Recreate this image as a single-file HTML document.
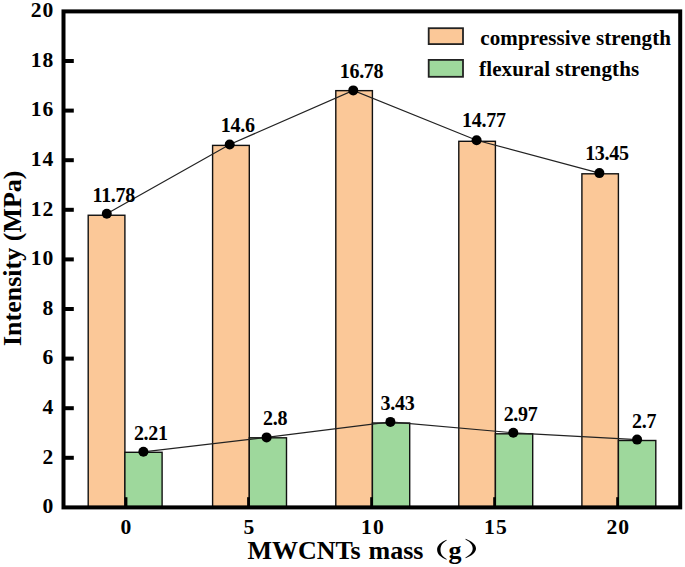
<!DOCTYPE html><html><head><meta charset="utf-8"><style>html,body{margin:0;padding:0;background:#fff;width:685px;height:567px;overflow:hidden}svg{display:block}text{font-family:"Liberation Serif",serif;font-weight:bold;fill:#000}</style></head><body>
<svg width="685" height="567" viewBox="0 0 685 567">
<rect x="88.2" y="215.25" width="36.70" height="292.15" fill="#FBC898" stroke="#111" stroke-width="1.4"/>
<rect x="124.9" y="452.3" width="37.20" height="55.10" fill="#9ED89C" stroke="#111" stroke-width="1.4"/>
<rect x="212.6" y="145.4" width="36.70" height="362.00" fill="#FBC898" stroke="#111" stroke-width="1.4"/>
<rect x="249.3" y="437.8" width="37.20" height="69.60" fill="#9ED89C" stroke="#111" stroke-width="1.4"/>
<rect x="335.8" y="90.65" width="36.60" height="416.75" fill="#FBC898" stroke="#111" stroke-width="1.4"/>
<rect x="372.4" y="423.0" width="37.30" height="84.40" fill="#9ED89C" stroke="#111" stroke-width="1.4"/>
<rect x="458.8" y="141.3" width="36.60" height="366.10" fill="#FBC898" stroke="#111" stroke-width="1.4"/>
<rect x="495.4" y="433.8" width="37.30" height="73.60" fill="#9ED89C" stroke="#111" stroke-width="1.4"/>
<rect x="581.9" y="173.8" width="36.50" height="333.60" fill="#FBC898" stroke="#111" stroke-width="1.4"/>
<rect x="618.4" y="440.5" width="37.40" height="66.90" fill="#9ED89C" stroke="#111" stroke-width="1.4"/>
<line x1="126" y1="507.40" x2="126" y2="497.2" stroke="#000" stroke-width="2.8"/>
<line x1="248.5" y1="507.40" x2="248.5" y2="497.2" stroke="#000" stroke-width="2.8"/>
<line x1="371.6" y1="507.40" x2="371.6" y2="497.2" stroke="#000" stroke-width="2.8"/>
<line x1="494.6" y1="507.40" x2="494.6" y2="497.2" stroke="#000" stroke-width="2.8"/>
<line x1="617.6" y1="507.40" x2="617.6" y2="497.2" stroke="#000" stroke-width="2.8"/>
<line x1="63.50" y1="457.80" x2="73.8" y2="457.80" stroke="#000" stroke-width="4"/>
<line x1="63.50" y1="408.20" x2="73.8" y2="408.20" stroke="#000" stroke-width="4"/>
<line x1="63.50" y1="358.60" x2="73.8" y2="358.60" stroke="#000" stroke-width="4"/>
<line x1="63.50" y1="309.00" x2="73.8" y2="309.00" stroke="#000" stroke-width="4"/>
<line x1="63.50" y1="259.40" x2="73.8" y2="259.40" stroke="#000" stroke-width="4"/>
<line x1="63.50" y1="209.80" x2="73.8" y2="209.80" stroke="#000" stroke-width="4"/>
<line x1="63.50" y1="160.20" x2="73.8" y2="160.20" stroke="#000" stroke-width="4"/>
<line x1="63.50" y1="110.60" x2="73.8" y2="110.60" stroke="#000" stroke-width="4"/>
<line x1="63.50" y1="61.00" x2="73.8" y2="61.00" stroke="#000" stroke-width="4"/>
<polyline points="106.8,213.8 229.7,144.5 353.25,90.4 476.6,140.3 599.4,173.1" fill="none" stroke="#222" stroke-width="1.2"/>
<polyline points="143.4,451.8 266.6,437.4 390.4,421.9 513.3,432.8 637.1,439.6" fill="none" stroke="#222" stroke-width="1.2"/>
<circle cx="106.8" cy="213.8" r="5" fill="#000"/>
<circle cx="229.7" cy="144.5" r="5" fill="#000"/>
<circle cx="353.25" cy="90.4" r="5" fill="#000"/>
<circle cx="476.6" cy="140.3" r="5" fill="#000"/>
<circle cx="599.4" cy="173.1" r="5" fill="#000"/>
<circle cx="143.4" cy="451.8" r="5" fill="#000"/>
<circle cx="266.6" cy="437.4" r="5" fill="#000"/>
<circle cx="390.4" cy="421.9" r="5" fill="#000"/>
<circle cx="513.3" cy="432.8" r="5" fill="#000"/>
<circle cx="637.1" cy="439.6" r="5" fill="#000"/>
<rect x="63.5" y="11.4" width="616.70" height="496.00" fill="none" stroke="#000" stroke-width="4"/>
<rect x="428.7" y="28.2" width="34.3" height="15.9" fill="#FBC898" stroke="#222" stroke-width="1.8"/>
<rect x="428.7" y="59.9" width="34.3" height="16.9" fill="#9ED89C" stroke="#222" stroke-width="1.8"/>
<path d="M446.6 539.7 C440.5 542.2 437.1 545.5 437.1 549.7 C437.1 554 440.5 557.2 446.6 559.7 L446.6 558.9 C442.3 556.6 440.5 553.6 440.5 549.7 C440.5 545.9 442.3 542.9 446.6 540.5 Z" fill="#000"/>
<path d="M465.5 538.8 C471.6 541.3 476 544.5 476 548.5 C476 552.5 471.6 555.8 465.5 558.2 L465.5 557.4 C469.8 555.1 472.7 552.2 472.7 548.5 C472.7 544.8 469.8 541.9 465.5 539.6 Z" fill="#000"/>
<text x="113.75" y="202.00" font-size="20" text-anchor="middle" letter-spacing="-0.3">11.78</text>
<text x="237.75" y="132.40" font-size="20" text-anchor="middle" letter-spacing="-0.3">14.6</text>
<text x="361.50" y="77.90" font-size="20" text-anchor="middle" letter-spacing="-0.3">16.78</text>
<text x="483.85" y="126.90" font-size="20" text-anchor="middle" letter-spacing="-0.3">14.77</text>
<text x="606.90" y="159.90" font-size="20" text-anchor="middle" letter-spacing="-0.3">13.45</text>
<text x="150.80" y="439.80" font-size="20" text-anchor="middle" letter-spacing="-0.3">2.21</text>
<text x="275.15" y="425.00" font-size="20" text-anchor="middle" letter-spacing="-0.3">2.8</text>
<text x="397.45" y="410.00" font-size="20" text-anchor="middle" letter-spacing="-0.3">3.43</text>
<text x="520.55" y="420.90" font-size="20" text-anchor="middle" letter-spacing="-0.3">2.97</text>
<text x="644.10" y="428.10" font-size="20" text-anchor="middle" letter-spacing="-0.3">2.7</text>
<text transform="translate(54.48,513.15) scale(1.08,1)" font-size="20" text-anchor="end" letter-spacing="1.0">0</text>
<text transform="translate(54.48,463.55) scale(1.08,1)" font-size="20" text-anchor="end" letter-spacing="1.0">2</text>
<text transform="translate(54.48,413.95) scale(1.08,1)" font-size="20" text-anchor="end" letter-spacing="1.0">4</text>
<text transform="translate(54.48,364.35) scale(1.08,1)" font-size="20" text-anchor="end" letter-spacing="1.0">6</text>
<text transform="translate(54.48,314.75) scale(1.08,1)" font-size="20" text-anchor="end" letter-spacing="1.0">8</text>
<text transform="translate(54.48,265.15) scale(1.08,1)" font-size="20" text-anchor="end" letter-spacing="1.0">10</text>
<text transform="translate(54.48,215.55) scale(1.08,1)" font-size="20" text-anchor="end" letter-spacing="1.0">12</text>
<text transform="translate(54.48,165.95) scale(1.08,1)" font-size="20" text-anchor="end" letter-spacing="1.0">14</text>
<text transform="translate(54.48,116.35) scale(1.08,1)" font-size="20" text-anchor="end" letter-spacing="1.0">16</text>
<text transform="translate(54.48,66.75) scale(1.08,1)" font-size="20" text-anchor="end" letter-spacing="1.0">18</text>
<text transform="translate(54.48,17.15) scale(1.08,1)" font-size="20" text-anchor="end" letter-spacing="1.0">20</text>
<text transform="translate(126.54,534.3) scale(1.08,1)" font-size="20" text-anchor="middle" letter-spacing="1.0">0</text>
<text transform="translate(249.54,534.3) scale(1.08,1)" font-size="20" text-anchor="middle" letter-spacing="1.0">5</text>
<text transform="translate(372.89,534.3) scale(1.08,1)" font-size="20" text-anchor="middle" letter-spacing="1.0">10</text>
<text transform="translate(495.94,534.3) scale(1.08,1)" font-size="20" text-anchor="middle" letter-spacing="1.0">15</text>
<text transform="translate(618.34,534.3) scale(1.08,1)" font-size="20" text-anchor="middle" letter-spacing="1.0">20</text>
<text x="247.4" y="559.3" font-size="26" word-spacing="1.5">MWCNTs mass</text>
<text x="448.5" y="559.3" font-size="26">g</text>
<text transform="translate(20.8,346) rotate(-90)" x="0" y="0" font-size="26">Intensity (MPa)</text>
<text x="480.3" y="45.1" font-size="21" letter-spacing="0.1">compressive strength</text>
<text x="479.0" y="76.3" font-size="21" letter-spacing="0.15">flexural strengths</text>
</svg></body></html>
